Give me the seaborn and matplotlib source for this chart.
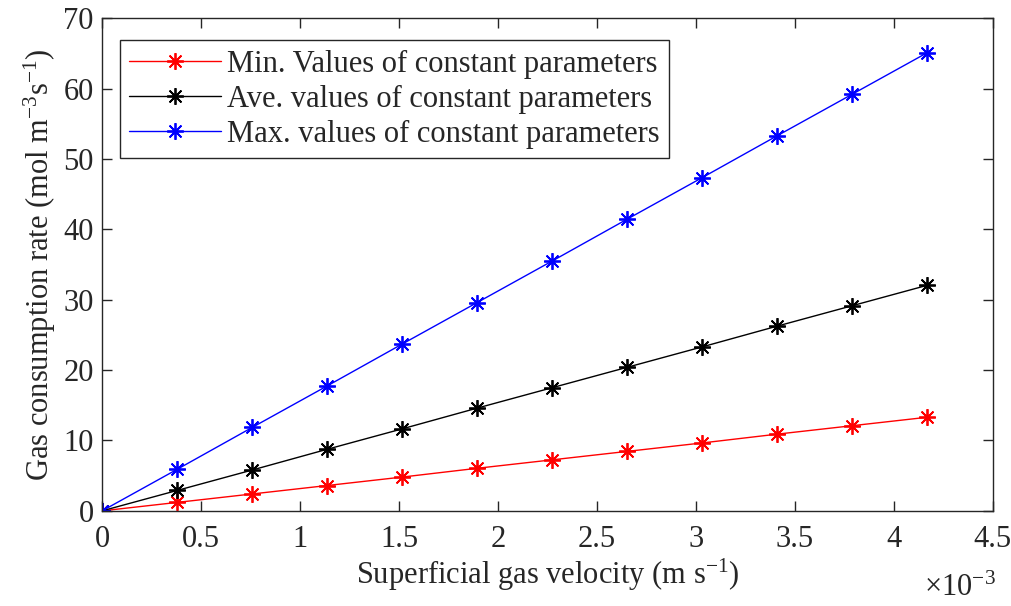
import numpy as np
import pandas as pd
import matplotlib
matplotlib.use("Agg")
import matplotlib.pyplot as plt
import seaborn as sns

velocity = [0, 0.379, 0.758, 1.137, 1.516, 1.895, 2.274, 2.653, 3.032, 3.411, 3.790, 4.169]  # x1e-3 m/s
min_vals = [0, 1.2, 2.4, 3.6, 4.8, 6.05, 7.25, 8.45, 9.65, 10.9, 12.1, 13.3]
ave_vals = [0, 2.9, 5.8, 8.75, 11.65, 14.6, 17.5, 20.4, 23.3, 26.25, 29.15, 32.05]
max_vals = [0, 5.9, 11.85, 17.75, 23.7, 29.6, 35.5, 41.45, 47.35, 53.3, 59.2, 65.1]
labels = ["Min. Values of constant parameters",
          "Ave. values of constant parameters",
          "Max. values of constant parameters"]
colors = ["#ff0000", "#000000", "#0000ff"]

rows = []
for lab, vals in zip(labels, [min_vals, ave_vals, max_vals]):
    for x, y in zip(velocity, vals):
        rows.append({"x": x * 1e-3, "y": y, "series": lab})
df = pd.DataFrame(rows)

sns.set_style("ticks")
plt.rcParams['font.family'] = ['Liberation Serif', 'DejaVu Serif']
plt.rcParams['mathtext.fontset'] = 'custom'
plt.rcParams['mathtext.rm'] = 'Liberation Serif'
plt.rcParams['mathtext.default'] = 'regular'

FS = 22
fig = plt.figure(figsize=(10.11, 6.06), dpi=100)
ax = fig.add_axes([0.101, 0.157, 0.881, 0.813])

sns.lineplot(data=df, x="x", y="y", hue="series", palette=colors, hue_order=labels,
             marker=(8, 2, 0), markersize=12, markeredgewidth=1.3, linewidth=1.0,
             ax=ax, legend=True)
for line in ax.lines:
    line.set_markeredgecolor(line.get_color())

ax.set_xlim(0, 4.5e-3)
ax.set_ylim(0, 70)
ax.set_xticks(np.arange(0, 4.51e-3, 0.5e-3))
ax.set_xticklabels(["0", "0.5", "1", "1.5", "2", "2.5", "3", "3.5", "4", "4.5"])
ax.set_yticks(np.arange(0, 71, 10))
ax.tick_params(direction="in", length=7, width=1, labelsize=FS, top=True, right=True,
               colors="#262626")
ax.tick_params(axis="x", pad=10)
ax.tick_params(axis="y", pad=6)
for s in ax.spines.values():
    s.set_visible(True)
    s.set_color("#262626")
    s.set_linewidth(1.0)

ax.set_xlabel("Superficial gas velocity (m s$^{-1}$)", fontsize=FS, labelpad=2)
ax.set_ylabel("Gas consumption rate (mol m$^{-3}$s$^{-1}$)", fontsize=FS, labelpad=4)
fig.text(0.985, 0.005, r"$\times10^{-3}$", fontsize=FS, ha="right", va="bottom")

leg = ax.legend(loc="upper left", bbox_to_anchor=(0.02, 0.955), fontsize=FS, frameon=True,
                fancybox=False, edgecolor="#262626", framealpha=1, handlelength=3.0,
                handletextpad=0.2, labelspacing=0.2, borderpad=0.3, borderaxespad=0)
leg.get_frame().set_linewidth(1.0)

fig.savefig("out.png", dpi=100)
